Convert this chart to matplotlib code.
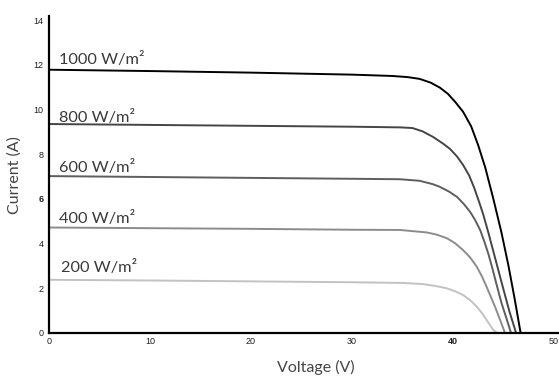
import matplotlib
matplotlib.use("Agg")
import matplotlib.pyplot as plt

# ---- data ----
irradiance_labels = ["1000 W/m²", "800 W/m²", "600 W/m²", "400 W/m²", "200 W/m²"]

v_1000 = [0, 10, 20, 30, 34, 35.5, 36.7, 37.8, 38.7, 39.5, 40.2, 41.0, 41.8, 42.5, 43.2, 44.0, 44.8, 45.5, 46.1, 46.7]
i_1000 = [11.78, 11.72, 11.65, 11.56, 11.50, 11.45, 11.37, 11.2, 10.98, 10.7, 10.35, 9.9, 9.25, 8.4, 7.4, 6.0, 4.5, 3.0, 1.55, 0]

v_800 = [0, 10, 20, 30, 34.8, 36.0, 37.0, 38.0, 39.0, 39.7, 40.4, 41.0, 41.6, 42.1, 42.6, 43.0, 43.5, 44.0, 44.5, 45.0, 45.6, 46.25]
i_800 = [9.35, 9.31, 9.27, 9.23, 9.2, 9.17, 9.02, 8.78, 8.48, 8.24, 7.9, 7.52, 7.05, 6.5, 5.85, 5.3, 4.5, 3.65, 2.8, 1.95, 0.95, 0]

v_600 = [0, 10, 20, 30, 34.75, 36.7, 38.0, 38.7, 39.6, 40.4, 41.1, 41.7, 42.2, 42.7, 43.1, 43.5, 43.9, 44.3, 44.8, 45.3, 45.75]
i_600 = [7.02, 6.98, 6.94, 6.9, 6.88, 6.81, 6.66, 6.54, 6.33, 6.09, 5.76, 5.42, 5.05, 4.6, 4.1, 3.55, 2.9, 2.2, 1.35, 0.65, 0]

v_400 = [0, 10, 20, 30, 34.75, 37.4, 38.4, 39.4, 40.2, 41.0, 41.7, 42.35, 42.85, 43.33, 43.75, 44.16, 44.5, 44.8, 45.15]
i_400 = [4.72, 4.69, 4.66, 4.62, 4.61, 4.5, 4.4, 4.24, 4.02, 3.71, 3.38, 2.97, 2.55, 2.07, 1.62, 1.18, 0.78, 0.43, 0]

v_200 = [0, 10, 20, 30, 35, 37, 38.3, 39.4, 40.3, 41.0, 41.7, 42.35, 42.9, 43.33, 43.7, 44.0, 44.4]
i_200 = [2.38, 2.35, 2.31, 2.27, 2.24, 2.19, 2.1, 2.0, 1.85, 1.7, 1.47, 1.18, 0.88, 0.58, 0.33, 0.13, 0]

label_v = [1.0, 1.0, 1.0, 1.0, 1.2]
label_i = [12.03, 9.44, 7.2, 4.91, 2.74]

x_ticks = [0, 10, 20, 30, 40, 50]
y_ticks = [0, 2, 4, 6, 8, 10, 12, 14]

series_v = [v_1000, v_800, v_600, v_400, v_200]
series_i = [i_1000, i_800, i_600, i_400, i_200]
colors = ["#000000", "#454545", "#5e5e5e", "#8c8c8c", "#c2c2c2"]

label_font = ["Lato", "DejaVu Sans"]

# ---- figure ----
fig = plt.figure(figsize=(5.59, 3.76), dpi=100)
ax = fig.add_axes([49 / 559, 43 / 376, 510 / 559, (14.2 * 22.35) / 376])

for v, i, c in zip(series_v, series_i, colors):
    ax.plot(v, i, color=c, lw=1.4, solid_capstyle="round", solid_joinstyle="round")

for txt, lv, li in zip(irradiance_labels, label_v, label_i):
    ax.text(lv, li, txt, fontsize=11.8, family=label_font,
            color="#3a3a3a", va="baseline", ha="left")

ax.set_xlim(0, 50.5)
ax.set_ylim(0, 14.2)
ax.set_xticks(x_ticks)
ax.set_yticks(y_ticks)
ax.set_xticklabels([str(t) for t in x_ticks], family="Liberation Sans", fontsize=6.5)
ax.set_yticklabels([str(t) for t in y_ticks], family="Liberation Sans", fontsize=6.5)
for lbl in ax.get_xticklabels():
    if lbl.get_text() == "40":
        lbl.set_fontweight("bold")
for lbl in ax.get_yticklabels():
    if lbl.get_text() == "6":
        lbl.set_fontweight("bold")
ax.tick_params(axis="both", length=0, colors="#222222")
ax.tick_params(axis="x", pad=3)
ax.tick_params(axis="y", pad=4)

for s in ["top", "right"]:
    ax.spines[s].set_visible(False)
for s in ["left", "bottom"]:
    ax.spines[s].set_linewidth(1.6)
    ax.spines[s].set_color("#000000")

fig.text(316 / 559, 1 - 367 / 376, "Voltage (V)", fontsize=11.5, family=label_font,
         color="#444444", ha="center", va="center")
fig.text(15 / 559, 1 - 175 / 376, "Current (A)", fontsize=11.5, family=label_font,
         color="#444444", ha="center", va="center", rotation=90)

fig.savefig("out.png", dpi=100)
